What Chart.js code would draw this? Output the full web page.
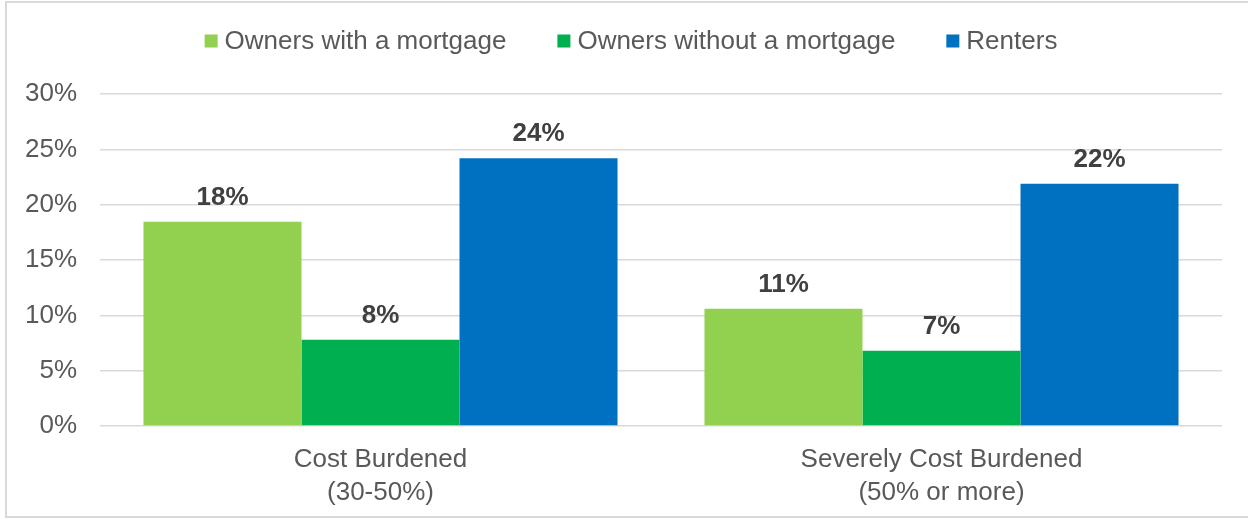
<!DOCTYPE html>
<html>
<head>
<meta charset="utf-8">
<script src="https://cdn.jsdelivr.net/npm/chart.js@4"></script>
<style>
  html, body { margin: 0; padding: 0; background: #fff; }
  #wrap { position: relative; width: 1248px; height: 519px; overflow: hidden; }
  #frame { position: absolute; left: 5px; top: 1px; width: 1300px; height: 517px; border: 2px solid #d9d9d9; box-sizing: border-box; }
  #chart { position: absolute; left: 0; top: 0; }
</style>
</head>
<body>
<div id="wrap">
  <div id="frame"></div>
  <canvas id="chart" width="1248" height="519"></canvas>
</div>
<script>
// data
const categories = [['Cost Burdened', '(30-50%)'], ['Severely Cost Burdened', '(50% or more)']];
const seriesNames = ['Owners with a mortgage', 'Owners without a mortgage', 'Renters'];
const withMortgage = [18.45, 10.6];
const withoutMortgage = [7.8, 6.8];
const renters = [24.2, 21.9];
const colors = ['#92D050', '#00B050', '#0070C0'];
const yTicks = [0, 5, 10, 15, 20, 25, 30];

const FONT = '"Liberation Sans", Arial, sans-serif';

// value labels above bars
const barLabels = {
  id: 'barLabels',
  afterDatasetsDraw(chart) {
    const ctx = chart.ctx;
    ctx.save();
    ctx.font = 'bold 26px ' + FONT;
    ctx.fillStyle = '#404040';
    ctx.textAlign = 'center';
    ctx.textBaseline = 'alphabetic';
    chart.data.datasets.forEach((ds, i) => {
      chart.getDatasetMeta(i).data.forEach((bar, j) => {
        ctx.fillText(Math.round(ds.data[j]) + '%', bar.x, bar.y - 17);
      });
    });
    ctx.restore();
  }
};

// legend drawn by hand so spacing matches
const topLegend = {
  id: 'topLegend',
  afterDraw(chart) {
    const ctx = chart.ctx;
    ctx.save();
    ctx.font = '26px ' + FONT;
    const box = 13, gap = 7, spacing = 51;
    const items = chart.data.datasets.map(ds => ({ text: ds.label, color: ds.backgroundColor, w: ctx.measureText(ds.label).width }));
    const total = items.reduce((s, it) => s + box + gap + it.w, 0) + spacing * (items.length - 1);
    let x = 631 - total / 2;
    const y = 41;
    ctx.textBaseline = 'middle';
    ctx.textAlign = 'left';
    items.forEach(it => {
      ctx.fillStyle = it.color;
      ctx.fillRect(x, y - box / 2, box, box);
      ctx.fillStyle = '#595959';
      ctx.fillText(it.text, x + box + gap, y + 1);
      x += box + gap + it.w + spacing;
    });
    ctx.restore();
  }
};

new Chart(document.getElementById('chart'), {
  type: 'bar',
  data: {
    labels: categories,
    datasets: [
      { label: seriesNames[0], data: withMortgage, backgroundColor: colors[0] },
      { label: seriesNames[1], data: withoutMortgage, backgroundColor: colors[1] },
      { label: seriesNames[2], data: renters, backgroundColor: colors[2] }
    ]
  },
  options: {
    responsive: false,
    animation: false,
    layout: { padding: { top: 94, right: 26, bottom: 0, left: 0 } },
    datasets: { bar: { barPercentage: 1, categoryPercentage: 0.845, borderWidth: 0 } },
    plugins: { legend: { display: false }, tooltip: { enabled: false } },
    scales: {
      x: {
        afterFit: s => { s.height = 93; },
        grid: { display: false, drawTicks: false },
        border: { display: false },
        ticks: { color: '#595959', font: { family: FONT, size: 26, lineHeight: 1.27 }, padding: 17 }
      },
      y: {
        min: 0, max: 30,
        afterBuildTicks: s => { s.ticks = yTicks.map(v => ({ value: v })); },
        afterFit: s => { s.width = 100; },
        grid: { color: '#d9d9d9', lineWidth: 1.5, drawTicks: false },
        border: { display: false },
        ticks: { color: '#595959', font: { family: FONT, size: 26 }, padding: 23, callback: v => v + '%' }
      }
    }
  },
  plugins: [barLabels, topLegend]
});
</script>
</body>
</html>
